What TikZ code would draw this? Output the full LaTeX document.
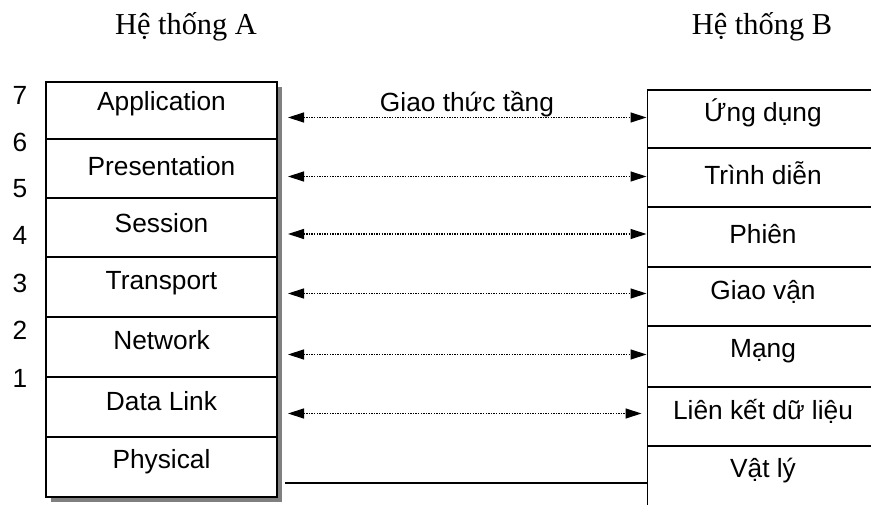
\documentclass[tikz,border=0pt]{standalone}
\usepackage{fontspec}
\setmainfont{Liberation Sans}
\newfontfamily\serifvn{Liberation Serif}
\usetikzlibrary{arrows.meta,calc,backgrounds}
\definecolor{shadowgray}{HTML}{808080}
\begin{document}
\begin{tikzpicture}[x=1pt,y=-1pt,
  layerbox/.style={draw,line width=1.6pt,fill=white,minimum width=231pt,inner sep=0pt,outer sep=0pt,rectangle},
  lbl/.style={font=\fontsize{26.3}{30}\selectfont,inner sep=0pt,anchor=base},
  head/.style={font=\serifvn\fontsize{30.4}{34}\selectfont,inner sep=0pt,anchor=base},
  proto/.style={line width=1.3pt,dash pattern=on 1.3pt off 1.3pt,
    {Triangle[length=16pt,width=10pt]}-{Triangle[length=16pt,width=10pt]}},
  wire/.style={line width=1.6pt}]
\useasboundingbox (0,0) rectangle (871,505);
\clip (0,0) rectangle (871,505);

% headers
\node[head] (hA) at (186,35) {Hệ thống A};
\node[head] (hB) at (762,35) {Hệ thống B};

% left stack (system A)
\node[layerbox,minimum height=57pt] (a7) at (161.5,110.5) {};
\node[layerbox,minimum height=59pt] (a6) at (161.5,168.5) {};
\node[layerbox,minimum height=59pt] (a5) at (161.5,227.5) {};
\node[layerbox,minimum height=60pt] (a4) at (161.5,287) {};
\node[layerbox,minimum height=60pt] (a3) at (161.5,347) {};
\node[layerbox,minimum height=60pt] (a2) at (161.5,407) {};
\node[layerbox,minimum height=60pt] (a1) at (161.5,467) {};
\begin{scope}[on background layer]
  \fill[shadowgray] ($(a7.north west)+(5,5)$) rectangle ($(a1.south east)+(5,4.5)$);
\end{scope}

\node[lbl] (ta7) at ($(a7.north)+(0,29)$) {Application};
\node[lbl] (ta6) at ($(a6.north)+(0,37)$) {Presentation};
\node[lbl] (ta5) at ($(a5.north)+(0,35)$) {Session};
\node[lbl] (ta4) at ($(a4.north)+(0,33)$) {Transport};
\node[lbl] (ta3) at ($(a3.north)+(0,33)$) {Network};
\node[lbl] (ta2) at ($(a2.north)+(0,33)$) {Data Link};
\node[lbl] (ta1) at ($(a1.north)+(0,31)$) {Physical};

% layer numbers
\node[lbl] (n7) at (20,105) {7};
\node[lbl] (n6) at (20,152) {6};
\node[lbl] (n5) at (20,198) {5};
\node[lbl] (n4) at (20,245) {4};
\node[lbl] (n3) at (20,293) {3};
\node[lbl] (n2) at (20,340) {2};
\node[lbl] (n1) at (20,387) {1};

% right stack (system B)
\node[layerbox,minimum height=58pt] (b7) at (763,119) {};
\node[layerbox,minimum height=59pt] (b6) at (763,177.5) {};
\node[layerbox,minimum height=60pt] (b5) at (763,237) {};
\node[layerbox,minimum height=59pt] (b4) at (763,296.5) {};
\node[layerbox,minimum height=61pt] (b3) at (763,356.5) {};
\node[layerbox,minimum height=59pt] (b2) at (763,416.5) {};
\node[layerbox,minimum height=74pt] (b1) at (763,483) {};

\node[lbl] (tb7) at ($(b7.north)+(0,32)$) {Ứng dụng};
\node[lbl] (tb6) at ($(b6.north)+(0,37)$) {Trình diễn};
\node[lbl] (tb5) at ($(b5.north)+(0,37)$) {Phiên};
\node[lbl] (tb4) at ($(b4.north)+(0,33)$) {Giao vận};
\node[lbl] (tb3) at ($(b3.north)+(0,32)$) {Mạng};
\node[lbl] (tb2) at ($(b2.north)+(0,32)$) {Liên kết dữ liệu};
\node[lbl] (tb1) at ($(b1.north)+(0,31)$) {Vật lý};

% peer protocol arrows
\draw[proto] ($(a7.east|-b7.west)+(11,-1.5)$) -- ($(b7.west)+(-1,-1.5)$);
\draw[proto] ($(a6.east|-b6.west)+(11,-1)$) -- ($(b6.west)+(-1,-1)$);
\draw[proto] ($(a5.east|-b5.west)+(11,-3)$) -- ($(b5.west)+(-1,-3)$);
\draw[proto] ($(a4.east|-b4.west)+(11,-3)$) -- ($(b4.west)+(-1,-3)$);
\draw[proto] ($(a3.east|-b3.west)+(11,-2)$) -- ($(b3.west)+(-1,-2)$);
\draw[proto] ($(a2.east|-b2.west)+(11,-3)$) -- ($(b2.west)+(-6,-3)$);
\node[lbl] (gt) at (467,112) {Giao thức tầng};

% physical medium
\draw[wire] ($(a1.east|-b1.west)+(8,0)$) -- (b1.west);
\end{tikzpicture}
\end{document}
